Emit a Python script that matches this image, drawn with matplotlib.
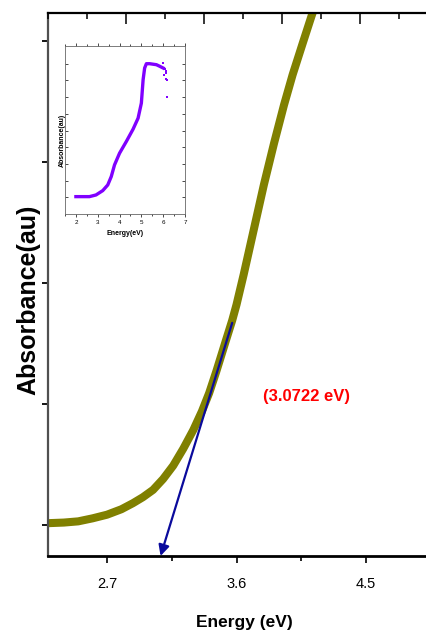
import matplotlib.pyplot as plt
from matplotlib.ticker import MultipleLocator

# main curve (energy in eV, absorbance in arbitrary units)
energy = [2.29, 2.40, 2.50, 2.60, 2.70, 2.80, 2.88, 2.95, 3.02, 3.09, 3.16,
          3.23, 3.30, 3.36, 3.41, 3.46, 3.52, 3.57, 3.60, 3.65, 3.72, 3.79,
          3.86, 3.93, 3.99, 4.06, 4.12, 4.16]
absorb = [0.015, 0.02, 0.03, 0.055, 0.085, 0.13, 0.18, 0.23, 0.29, 0.38,
          0.49, 0.63, 0.785, 0.94, 1.09, 1.27, 1.50, 1.69, 1.82, 2.07, 2.44,
          2.81, 3.15, 3.47, 3.72, 3.98, 4.20, 4.34]

# tangent (Tauc-like extrapolation)
tangent_start = (3.57, 1.67)
band_gap = 3.0722

# inset spectrum
inset_energy = [2.0, 2.62, 2.92, 3.23, 3.46, 3.62, 3.77, 4.0, 4.31, 4.62, 4.85,
                5.0, 5.08, 5.15, 5.23, 5.38, 5.69, 5.85, 6.0]
inset_abs = [0.04, 0.04, 0.14, 0.4, 0.74, 1.24, 1.94, 2.64, 3.34, 4.08, 4.74,
             5.64, 7.04, 7.74, 8.0, 8.0, 7.94, 7.84, 7.74]
tail_energy = [5.98, 6.03, 6.08, 6.11, 6.12, 6.15, 6.16, 6.16]
tail_abs = [8.04, 7.34, 7.7, 7.44, 7.54, 7.1, 7.02, 6.0]

plt.rcParams['font.family'] = ['Liberation Sans', 'DejaVu Sans']

fig = plt.figure(figsize=(4.27, 6.37), dpi=100)
ax = fig.add_axes([0.1124, 0.1272, 0.9133, 0.8524])

ax.plot(energy, absorb, color='#808000', lw=5.8, solid_capstyle='butt',
        solid_joinstyle='round')
ax.set_xlim(2.29, 5.0)
ax.set_ylim(-0.256, 4.23)

ax.set_xticks([2.7, 3.6, 4.5])
ax.xaxis.set_minor_locator(MultipleLocator(0.45))
ax.set_yticks([0, 1, 2, 3, 4])
ax.set_yticklabels([])
ax.tick_params(axis='x', which='major', direction='out', length=5, width=1.2,
               labelsize=10.5, pad=10)
ax.tick_params(axis='x', which='minor', direction='out', length=3.5, width=1.2)
ax.tick_params(axis='y', direction='out', length=4.5, width=1.3)

ax.spines['right'].set_visible(False)
ax.spines['top'].set_linewidth(1.6)
ax.spines['bottom'].set_linewidth(2.0)
ax.spines['left'].set_linewidth(1.6)
ax.spines['left'].set_color('#505050')

# top axis with its own ticks
tw = ax.twiny()
tw.set_xlim(0, 10)
tw.set_xticks([2, 4, 6, 8])
tw.xaxis.set_minor_locator(MultipleLocator(1))
tw.tick_params(axis='x', which='major', direction='in', length=8, width=1.1,
               labeltop=False)
tw.tick_params(axis='x', which='minor', direction='in', length=4.5, width=1.1)
for s in tw.spines.values():
    s.set_visible(False)

ax.annotate('', xy=(band_gap, -0.256), xytext=tangent_start,
            arrowprops=dict(arrowstyle='-|>', color='#0a0a9c', lw=1.6,
                            mutation_scale=16, shrinkA=0, shrinkB=0))
ax.text(4.083, 1.058, '(3.0722 eV)', color='#ff0000', fontsize=12,
        fontweight='bold', ha='center', va='center')

fig.text(244 / 427, 1 - 623 / 637, 'Energy (eV)', fontsize=12.5, fontweight='bold',
         ha='center', va='center')
fig.text(28 / 427, 1 - 300 / 637, 'Absorbance(au)', fontsize=18, fontweight='bold',
         rotation=90, ha='center', va='center')

# inset
ins = fig.add_axes([65 / 427, 1 - 214 / 637, 120 / 427, 168 / 637])
ins.plot(inset_energy, inset_abs, color='#8000ff', lw=2.4)
ins.plot(tail_energy, tail_abs, 's', color='#8000ff', ms=2, mew=0)
ins.set_xlim(1.5, 7.0)
ins.set_ylim(-1.0, 9.06)
ins.set_xticks([2, 3, 4, 5, 6, 7])
ins.xaxis.set_minor_locator(MultipleLocator(0.5))
ins.set_yticks(range(0, 9))
ins.set_yticklabels([])
ins.tick_params(axis='x', which='both', direction='out', labelsize=4.5, pad=1.5,
                width=0.5, top=True)
ins.tick_params(axis='x', which='major', length=2.5)
ins.tick_params(axis='x', which='minor', length=1.5)
ins.tick_params(axis='y', direction='in', length=2.5, width=0.5, right=True)
for s in ins.spines.values():
    s.set_linewidth(0.6)
    s.set_color('#666666')
fig.text(125 / 427, 1 - 233 / 637, 'Energy(eV)', fontsize=5, fontweight='bold',
         ha='center', va='center')
fig.text(62 / 427, 1 - 140 / 637, 'Absorbance(au)', fontsize=5, fontweight='bold',
         rotation=90, ha='center', va='center')

fig.savefig('out.png', dpi=100)
